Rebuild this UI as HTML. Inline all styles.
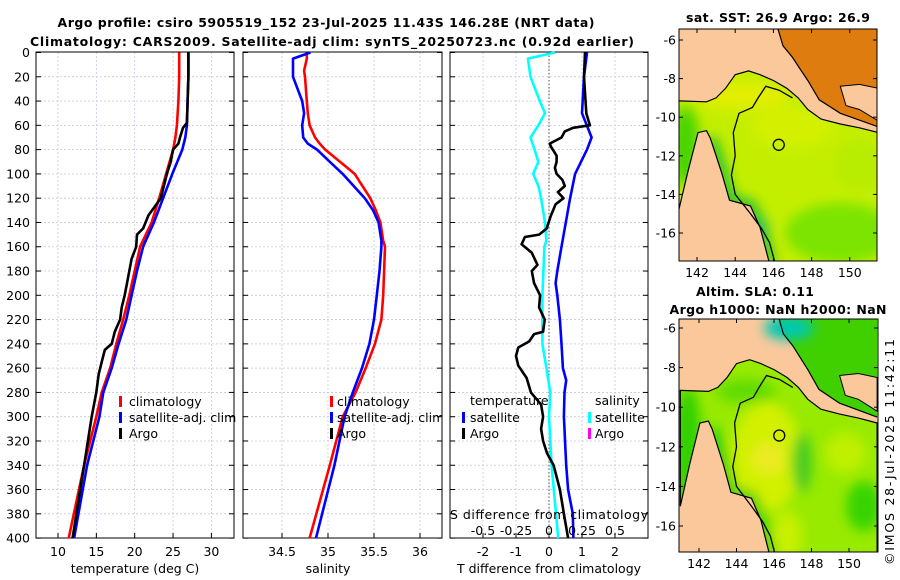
<!DOCTYPE html>
<html><head><meta charset="utf-8"><style>
html,body{margin:0;padding:0;background:#fff;}
svg{display:block;font-family:"DejaVu Sans","Liberation Sans",sans-serif;}
</style></head><body>
<svg id="fig" width="900" height="580" viewBox="0 0 900 580" xmlns="http://www.w3.org/2000/svg">
<defs>
<filter id="blur" x="-50%" y="-50%" width="200%" height="200%"><feGaussianBlur stdDeviation="6"/></filter>
<clipPath id="clipTop"><rect x="679" y="29" width="198" height="232"/></clipPath>
<clipPath id="clipBot"><rect x="679" y="319" width="199" height="233"/></clipPath>
<clipPath id="clipP2"><rect x="243" y="40" width="199" height="520"/></clipPath>
</defs>
<text x="326" y="27" text-anchor="middle" font-weight="bold" font-size="12.5" textLength="537">Argo profile: csiro 5905519_152 23-Jul-2025 11.43S 146.28E (NRT data)</text>
<text x="332" y="46" text-anchor="middle" font-weight="bold" font-size="12.5" textLength="604">Climatology: CARS2009. Satellite-adj clim: synTS_20250723.nc (0.92d earlier)</text>
<g id="panels"></g>
<g id="maps"></g>
<text x="778" y="22" text-anchor="middle" font-weight="bold" font-size="12.5" textLength="184">sat. SST: 26.9 Argo: 26.9</text>
<text x="755" y="296" text-anchor="middle" font-weight="bold" font-size="12.5" textLength="118">Altim. SLA: 0.11</text>
<text x="778" y="314" text-anchor="middle" font-weight="bold" font-size="12.5" textLength="217">Argo h1000: NaN h2000: NaN</text>
<text transform="translate(894,452) rotate(-90)" text-anchor="middle" font-size="12.5" textLength="226">©IMOS 28-Jul-2025 11:42:11</text>
</svg>
<script>
// ---- data ----
const depthTick = [0,20,40,60,80,100,120,140,160,180,200,220,240,260,280,300,320,340,360,380,400];
const climDepth = [0,20,40,60,70,80,100,120,140,160,180,200,220,240,260,280,300,340,400];
const climTemp  = [25.8,25.8,25.7,25.5,25.3,25.0,24.1,23.2,22.2,20.7,20.0,19.3,18.5,17.6,16.8,15.7,15.0,13.4,11.4];
const satTemp   = [27.0,27.0,26.9,26.8,26.6,26.2,24.9,23.7,22.5,21.1,20.3,19.6,18.9,17.9,17.0,15.9,15.4,13.8,12.1];
const argoDepth = [0,20,40,58,62,70,75,80,90,100,120,134,145,150,160,170,180,190,200,210,220,230,240,245,255,265,280,300,320,340,360,380,400];
const argoTemp  = [27.0,27.0,26.9,26.8,26.3,25.9,25.7,25.0,24.7,24.2,23.4,21.8,21.1,20.3,20.2,19.6,19.3,19.0,18.7,18.3,18.1,17.4,17.0,16.1,15.7,15.3,15.0,14.4,13.9,13.4,12.9,12.4,11.9];
const salDepth  = [0,5,15,20,40,50,60,70,75,80,90,100,120,130,140,155,160,180,200,220,240,260,280,300,340,400];
const climSal   = [34.77,34.77,34.74,34.75,34.77,34.78,34.80,34.86,34.91,34.97,35.13,35.29,35.46,35.52,35.57,35.60,35.62,35.61,35.60,35.58,35.51,35.41,35.30,35.16,35.02,34.80];
const satSal    = [34.81,34.62,34.62,34.62,34.72,34.74,34.72,34.73,34.78,34.88,35.02,35.16,35.40,35.49,35.55,35.58,35.58,35.56,35.53,35.50,35.45,35.37,35.27,35.18,35.07,34.87];
const dTsatDepth = [0,20,50,70,80,100,120,134,160,180,190,200,220,240,260,270,280,300,340,360,380,400];
const dTsat      = [1.15,1.06,1.0,1.29,1.15,0.79,0.64,0.55,0.38,0.25,0.2,0.25,0.33,0.38,0.42,0.52,0.47,0.45,0.52,0.58,0.72,0.74];
const dTargoDepth = [0,20,50,60,62,65,70,75,78,85,90,95,100,105,110,115,120,125,135,145,150,152,158,165,175,180,190,200,210,220,230,232,238,243,250,258,268,280,290,300,310,320,330,340,360,380,400];
const dTargo      = [1.09,1.06,1.13,1.24,0.73,0.48,0.38,0.02,0.07,0.23,0.23,0.18,0.23,0.41,0.48,0.27,0.44,0.2,0.05,-0.07,-0.3,-0.73,-0.83,-0.52,-0.35,-0.52,-0.45,-0.27,-0.3,-0.13,-0.18,-0.45,-0.6,-0.93,-1.0,-0.93,-0.68,-0.55,-0.24,-0.18,-0.24,-0.18,-0.06,0.14,0.33,0.45,0.58];
const dSsatDepth = [0,5,20,40,50,60,70,80,90,100,110,120,140,155,160,200,240,260,280,300,340,400];
const dSsat      = [0.045,-0.16,-0.14,-0.07,-0.03,-0.08,-0.14,-0.11,-0.08,-0.12,-0.08,-0.06,-0.03,-0.02,-0.035,-0.05,-0.05,-0.02,0.01,0.0,0.02,0.07];
const tempTicks = [10,15,20,25,30];
const salTicks = [34.5,35,35.5,36];
const dTTicks = [-2,-1,0,1,2];
const dSTicks = [-0.5,-0.25,0,0.25,0.5];
const dSTickLabels = ['-0.5','-0.25','0','0.25','0.5'];
const latTicks = [-6,-8,-10,-12,-14,-16];
const lonTicks = [142,144,146,148,150];

const NS='http://www.w3.org/2000/svg';
function mk(tag, attrs, parent){const e=document.createElementNS(NS,tag);for(const k in attrs)e.setAttribute(k,attrs[k]);parent.appendChild(e);return e;}
const panels=document.getElementById('panels');
const Y0=52.5, DY=1.214;
const yD = d => Y0 + d*DY;
const xT = t => 58 + (t-10)*7.67;
const xS = s => 282 + (s-34.5)*92;
const xDT = v => 549 + v*33;
const xDS = v => 549 + v*132;
const TOP=52, BOT=538;

function panelFrame(name, x0, x1, vTicks, vx){
  const g=mk('g',{},panels);
  
  
  depthTick.forEach(d=>{
    const y=yD(d);
    if(d>0&&d<400){const l=mk('line',{x1:x0,x2:x1,y1:y,y2:y,stroke:'#c4c8e4','stroke-width':0.8,'stroke-dasharray':'2,2'},g);
      }
    mk('line',{x1:x0,x2:x0+5,y1:y,y2:y,stroke:'#000','stroke-width':1},g);
    mk('line',{x1:x1-5,x2:x1,y1:y,y2:y,stroke:'#000','stroke-width':1},g);
  });
  vTicks.forEach(v=>{
    const x=vx(v);
    const l=mk('line',{x1:x,x2:x,y1:TOP,y2:BOT,stroke:'#c4c8e4','stroke-width':0.8,'stroke-dasharray':'2,2'},g);
    
    mk('line',{x1:x,x2:x,y1:BOT-5,y2:BOT,stroke:'#000','stroke-width':1},g);
  });
  const r=mk('rect',{x:x0,y:TOP,width:x1-x0,height:BOT-TOP,fill:'none',stroke:'#000','stroke-width':1},g);
  
  return g;
}
function line(g, depths, vals, xf, color, name, w){
  const pts=depths.map((d,i)=>xf(vals[i]).toFixed(1)+','+yD(d).toFixed(1)).join(' ');
  const p=mk('polyline',{points:pts,fill:'none',stroke:color,'stroke-width':w||2.6,'stroke-linejoin':'round'},g);
  
  
  return p;
}
function txt(g, x, y, s, attrs, name){
  const t=mk('text',Object.assign({x:x,y:y,'font-size':12.5},attrs||{}),g);
  t.textContent=s;
  
  
  return t;
}
function legendMark(g,x,y,color,name){
  const r=mk('rect',{x:x,y:y-6,width:3,height:11,fill:color},g);
  
  
}

// y tick labels
const yl=mk('g',{},panels);


depthTick.forEach(d=>txt(yl,30,yD(d)+4.5,String(d),{'text-anchor':'end'},'depth-tick-label'));

// Panel 1: temperature
const g1=panelFrame('temperature-panel',36,234,tempTicks,xT);
line(g1,climDepth,climTemp,xT,'#ff0000','climatology-temp-line');
line(g1,climDepth,satTemp,xT,'#0000ff','satellite-temp-line');
line(g1,argoDepth,argoTemp,xT,'#000000','argo-temp-line');
tempTicks.forEach(v=>txt(g1,xT(v),556,String(v),{'text-anchor':'middle'},'temp-tick-label'));
txt(g1,135,573,'temperature (deg C)',{'text-anchor':'middle'},'temp-axis-title');
legendMark(g1,119,402,'#ff0000','legend-climatology-marker');
legendMark(g1,119,418,'#0000ff','legend-satellite-marker');
legendMark(g1,119,434,'#000000','legend-argo-marker');
txt(g1,129,406,'climatology',{},'legend-climatology');
txt(g1,129,422,'satellite-adj. clim',{},'legend-satellite');
txt(g1,129,438,'Argo',{},'legend-argo');

// Panel 2: salinity
const g2=panelFrame('salinity-panel',243,442,salTicks,xS);
line(g2,salDepth,climSal,xS,'#ff0000','climatology-sal-line');
line(g2,salDepth,satSal,xS,'#0000ff','satellite-sal-line');
salTicks.forEach(v=>txt(g2,xS(v),556,String(v),{'text-anchor':'middle'},'sal-tick-label'));
txt(g2,328,573,'salinity',{'text-anchor':'middle'},'sal-axis-title');
const lg2=mk('g',{'clip-path':'url(#clipP2)'},g2);
legendMark(lg2,330,402,'#ff0000','legend-climatology-marker');
legendMark(lg2,330,418,'#0000ff','legend-satellite-marker');
legendMark(lg2,330,434,'#000000','legend-argo-marker');
txt(lg2,337,406,'climatology',{},'legend-climatology');
txt(lg2,337,422,'satellite-adj. clim',{},'legend-satellite');
txt(lg2,337,438,'Argo',{},'legend-argo');

// Panel 3: differences
const g3=panelFrame('difference-panel',450,648,dTTicks,xDT);
const zl=mk('line',{x1:549,x2:549,y1:TOP,y2:BOT,stroke:'#555','stroke-width':1,'stroke-dasharray':'1.5,2'},g3);

line(g3,dSsatDepth,dSsat,xDS,'#00ffff','satellite-sal-diff-line');
line(g3,dTsatDepth,dTsat,xDT,'#0000ff','satellite-temp-diff-line');
line(g3,dTargoDepth,dTargo,xDT,'#000000','argo-temp-diff-line');
dTTicks.forEach(v=>txt(g3,xDT(v),556,String(v),{'text-anchor':'middle'},'tdiff-tick-label'));
txt(g3,549,573,'T difference from climatology',{'text-anchor':'middle'},'tdiff-axis-title');
txt(g3,549,519,'S difference from climatology',{'text-anchor':'middle',textLength:198},'sdiff-axis-title');
dSTicks.forEach((v,i)=>txt(g3,xDS(v),535,dSTickLabels[i],{'text-anchor':'middle'},'sdiff-tick-label'));
txt(g3,470,405,'temperature',{},'legend-temperature-header');
legendMark(g3,462,418,'#0000ff','legend-t-satellite-marker');
legendMark(g3,462,434,'#000000','legend-t-argo-marker');
txt(g3,470,422,'satellite',{},'legend-t-satellite');
txt(g3,470,438,'Argo',{},'legend-t-argo');
txt(g3,595,405,'salinity',{},'legend-salinity-header');
legendMark(g3,588,418,'#00ffff','legend-s-satellite-marker');
legendMark(g3,588,434,'#ff00ff','legend-s-argo-marker');
txt(g3,595,422,'satellite',{},'legend-s-satellite');
txt(g3,595,438,'Argo',{},'legend-s-argo');

// ---- maps ----
const maps=document.getElementById('maps');
const seaPoly=[[141.0,-9.15],[142.5,-9.2],[143.0,-9.0],[143.5,-8.5],[144.0,-7.8],[144.7,-7.6],[145.3,-7.8],[146.0,-8.1],[146.7,-8.5],[147.3,-9.0],[147.8,-9.6],[148.5,-10.1],[149.5,-10.35],[150.5,-10.55],[151.5,-10.8],[151.5,-17.6],[145.8,-17.6],[145.3,-15.7],[144.8,-14.6],[143.7,-14.3],[143.3,-12.9],[142.7,-11.1],[142.5,-10.7],[142.05,-10.8],[141.5,-12.9],[141.0,-15.0]];
const gulfPoly=[[146.2,-5.3],[146.5,-6.3],[147.0,-6.9],[147.4,-7.5],[147.8,-8.1],[148.4,-9.1],[149.5,-9.8],[151.5,-10.5],[151.5,-5.3]];
const islandPoly=[[149.5,-8.4],[150.5,-8.3],[151.5,-8.5],[151.5,-10.2],[150.5,-9.6],[149.8,-9.4]];
const reefLine=[[147.0,-9.0],[146.3,-8.6],[145.6,-8.4],[145.2,-9.0],[144.9,-9.5],[144.2,-9.8],[143.9,-10.8],[144.0,-12.0],[143.8,-13.0],[144.0,-14.0],[144.8,-15.0],[145.4,-15.8],[145.8,-16.5],[146.1,-17.6]];
const capeCoast=[[145.8,-17.6],[145.3,-15.7],[144.8,-14.6],[143.7,-14.3],[143.3,-12.9],[142.7,-11.1]];

function makeMap(name, clipId, fx, fy, fw, fh, lat0y, lon0x, sy, sx, layers, gulfColor){
  const g=mk('g',{},maps);
  
  
  const P=(lon,lat)=>[lon0x+(lon-142)*sx, lat0y-(lat+6)*sy];
  const pts=a=>a.map(p=>P(p[0],p[1]).map(v=>v.toFixed(1)).join(',')).join(' ');
  const c=mk('g',{'clip-path':'url(#'+clipId+')'},g);
  mk('rect',{x:fx,y:fy,width:fw,height:fh,fill:'#fbc89c'},c);
  const sea=mk('polygon',{points:pts(seaPoly),fill:layers.base},c);
  
  const blobs=mk('g',{filter:'url(#blur)'},c);
  const inner=mk('clipPath',{id:clipId+'sea'},c);
  mk('polygon',{points:pts(seaPoly)},inner);
  blobs.setAttribute('clip-path','url(#'+clipId+'sea)');
  layers.blobs.forEach(b=>{const [x,y]=P(b[0],b[1]);mk('ellipse',{cx:x,cy:y,rx:b[2],ry:b[3],fill:b[4]},blobs);});
  mk('polyline',{points:pts(capeCoast),fill:'none',stroke:layers.coast,'stroke-width':12,'stroke-linejoin':'round'},blobs);
  const gulf=mk('polygon',{points:pts(gulfPoly),fill:gulfColor},c);
  
  if(layers.gulfBlob){const [x,y]=P(layers.gulfBlob[0],layers.gulfBlob[1]);mk('ellipse',{cx:x,cy:y,rx:layers.gulfBlob[2],ry:layers.gulfBlob[3],fill:layers.gulfBlob[4],filter:'url(#blur)'},c);}
  mk('polygon',{points:pts(islandPoly),fill:'#fbc89c',stroke:'#000','stroke-width':1},c);
  mk('polygon',{points:pts(seaPoly),fill:'none',stroke:'#000','stroke-width':1.2},c);
  mk('polyline',{points:pts(gulfPoly.slice(0,8)),fill:'none',stroke:'#000','stroke-width':1.2},c);
  const reef=mk('polyline',{points:pts(reefLine),fill:'none',stroke:'#000','stroke-width':1.3},c);
  
  const [cx,cy]=P(146.28,-11.43);
  const m=mk('circle',{cx:cx,cy:cy,r:5.5,fill:'none',stroke:'#000','stroke-width':1.3},g);
  
  mk('rect',{x:fx,y:fy,width:fw,height:fh,fill:'none',stroke:'#000','stroke-width':1},g);
  latTicks.forEach(la=>{const y=P(142,la)[1];
    mk('line',{x1:fx,x2:fx+4,y1:y,y2:y,stroke:'#000'},g);mk('line',{x1:fx+fw-4,x2:fx+fw,y1:y,y2:y,stroke:'#000'},g);
    txt(g,fx-3,y+4.5,String(la),{'text-anchor':'end'},'lat-tick-label');});
  lonTicks.forEach(lo=>{const x=P(lo,-6)[0];
    mk('line',{x1:x,x2:x,y1:fy+fh-4,y2:fy+fh,stroke:'#000'},g);mk('line',{x1:x,x2:x,y1:fy,y2:fy+4,stroke:'#000'},g);
    txt(g,x,fy+fh+16,String(lo),{'text-anchor':'middle'},'lon-tick-label');});
}
makeMap('sst-map','clipTop',679,29,198,232,40,697,19.3,19.1,{
  base:'#c4ee00', coast:'#20c030',
  blobs:[[144.5,-8.9,45,14,'#e2ee00'],[147,-10.5,40,20,'#d4f000'],[141.4,-11.5,14,40,'#48d400'],[141.1,-16.8,10,22,'#1060e0'],[145.2,-15.8,10,12,'#00c0b8'],[149.5,-16,55,30,'#7ce400'],[150.5,-12.5,25,25,'#b8ec00']]
},'#de7c10');
makeMap('sla-map','clipBot',679,319,199,233,328,699,19.8,18.75,{
  base:'#98ea00', coast:'#28cc10',
  blobs:[[145.6,-12.5,35,55,'#d2f000'],[145.7,-12.6,16,16,'#ecea20'],[147.5,-12.8,10,30,'#44cc20'],[141.4,-12,14,60,'#30d000'],[150.8,-15,18,25,'#38d400'],[149.8,-12.3,20,20,'#c0f000'],[146.7,-16.5,15,25,'#c8f000'],[144.5,-9.2,30,12,'#60dc00']]
  ,gulfBlob:[146.8,-6.0,25,12,'#00c8b0']
},'#40d000');
</script>
</body></html>
